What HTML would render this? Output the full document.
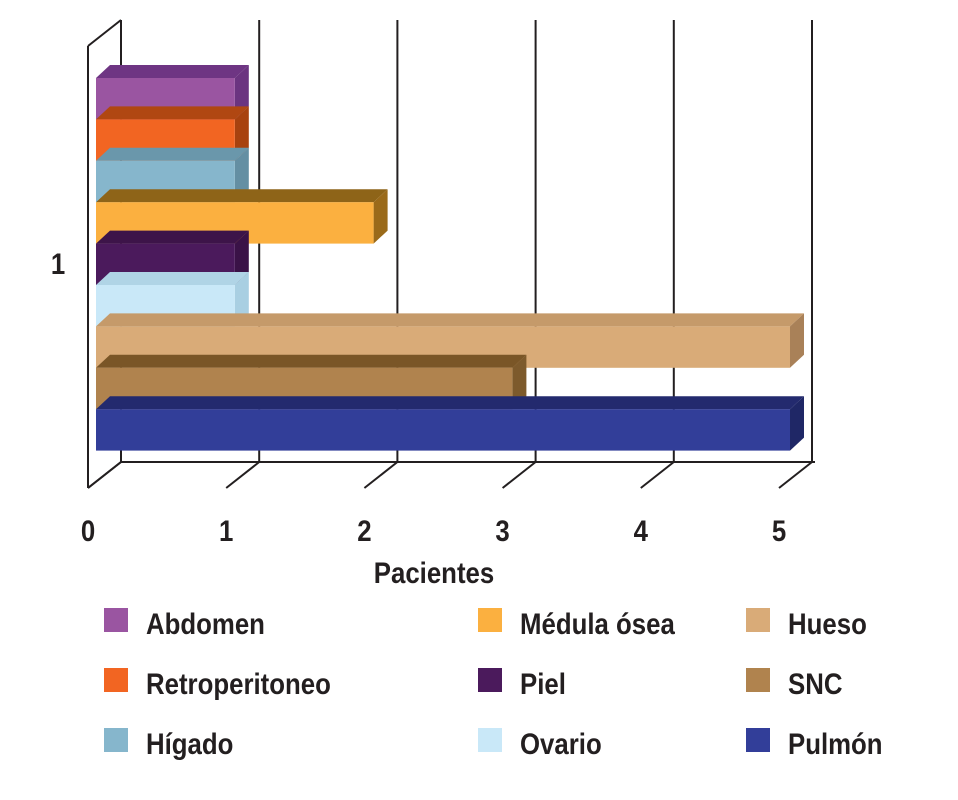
<!DOCTYPE html>
<html><head><meta charset="utf-8"><style>
html,body{margin:0;padding:0;background:#fff;}
svg text{font-family:"Liberation Sans Narrow","Liberation Sans",sans-serif;font-weight:bold;fill:#231f20;}
</style></head><body>
<svg id="chart" width="958" height="795" viewBox="0 0 958 795" xmlns="http://www.w3.org/2000/svg"></svg>
<script>
const categories = ["Abdomen","Retroperitoneo","Hígado","Médula ósea","Piel","Ovario","Hueso","SNC","Pulmón"];
const values = [1,1,1,2,1,1,5,3,5];
const colors = ["#9a55a1","#f26522","#86b6cc","#fbb040","#4b1a5c","#c9e8f8","#d9ab78","#b0834e","#323e99"];
const sideColors = ["#6b3480","#a8420f","#648fa3","#9a6a1a","#3a1247","#a9cfe2","#a98158","#7d5a2c","#1f2766"];
const topColors = ["#6e3583","#b04712","#6a97ab","#8e6418","#3d1449","#b0d4e6","#c59a6a","#7a5627","#232a6e"];
const xTicks = [0,1,2,3,4,5];
const legendOrder = [0,3,6,1,4,7,2,5,8];

const svg = document.getElementById('chart');
const NS = 'http://www.w3.org/2000/svg';
const x0 = 88, unit = 138.2, yFloor = 488, dx = 33, dy = 26, yTop = 46;
const barX0 = 96, barTop = 78, barH = 41.4, bdx = 14, bdy = 13;
function xs(v){ return x0 + v*unit; }
function bx(v){ return barX0 + v*unit*(694/691); }
function mk(tag, attrs){ const e = document.createElementNS(NS, tag); for (const k in attrs) e.setAttribute(k, attrs[k]); svg.appendChild(e); return e; }
function txt(x,y,s,anchor,str){
  const g = mk('g',{transform:`translate(${x},${y}) scale(0.86,1)`});
  const t = document.createElementNS(NS,'text');
  t.setAttribute('x',0); t.setAttribute('y',0); t.setAttribute('font-size',s); t.setAttribute('text-anchor',anchor);
  t.textContent = str; g.appendChild(t); return g;
}

xTicks.forEach((t,i)=>{
  const l = mk('line',{x1:xs(t)+dx,y1:yTop-dy,x2:xs(t)+dx,y2:yFloor-dy,stroke:'#231f20','stroke-width':2});
  
  
});
[[xs(0)+dx,yFloor-dy,xs(5)+dx+3,yFloor-dy],[x0,yTop,x0,yFloor],[x0,yTop,x0+dx,yTop-dy],[x0,yFloor,x0+dx,yFloor-dy]].forEach(c=>{
  const l = mk('line',{x1:c[0],y1:c[1],x2:c[2],y2:c[3],stroke:'#231f20','stroke-width':2});
  
  
});
xTicks.forEach(t=>{
  const l = mk('line',{x1:xs(t),y1:yFloor,x2:xs(t)+dx,y2:yFloor-dy,stroke:'#231f20','stroke-width':2});
  
  
});

categories.forEach((c,i)=>{
  const y = barTop + i*barH, xr = bx(values[i]);
  const g = document.createElementNS(NS,'g'); svg.appendChild(g);
  
  
  const top = document.createElementNS(NS,'polygon');
  top.setAttribute('points',`${barX0},${y} ${barX0+bdx},${y-bdy} ${xr+bdx},${y-bdy} ${xr},${y}`);
  top.setAttribute('fill',topColors[i]); g.appendChild(top);
  const side = document.createElementNS(NS,'polygon');
  side.setAttribute('points',`${xr},${y} ${xr+bdx},${y-bdy} ${xr+bdx},${y+barH-bdy} ${xr},${y+barH}`);
  side.setAttribute('fill',sideColors[i]); g.appendChild(side);
  const f = document.createElementNS(NS,'rect');
  f.setAttribute('x',barX0); f.setAttribute('y',y); f.setAttribute('width',xr-barX0); f.setAttribute('height',barH);
  f.setAttribute('fill',colors[i]); g.appendChild(f);
});

xTicks.forEach(t=>{
  const tx = txt(xs(t),541,30,'middle',String(t));
  
  
});
const yl = txt(58,274,30,'middle','1');


const xt = txt(434,583,30,'middle','Pacientes');



const colX = [104,478,746], rowY = [608,668,728];
legendOrder.forEach((ci,k)=>{
  const col = k%3, row = Math.floor(k/3);
  const g = document.createElementNS(NS,'g'); svg.appendChild(g);
  
  
  const r = document.createElementNS(NS,'rect');
  r.setAttribute('x',colX[col]); r.setAttribute('y',rowY[row]); r.setAttribute('width',24); r.setAttribute('height',24);
  r.setAttribute('fill',colors[ci]); g.appendChild(r);
  const tg = document.createElementNS(NS,'g');
  tg.setAttribute('transform',`translate(${colX[col]+42},${rowY[row]+26}) scale(0.86,1)`);
  const t = document.createElementNS(NS,'text');
  t.setAttribute('x',0); t.setAttribute('y',0); t.setAttribute('font-size',30);
  t.textContent = categories[ci]; tg.appendChild(t); g.appendChild(tg);
});
</script>
</body></html>
